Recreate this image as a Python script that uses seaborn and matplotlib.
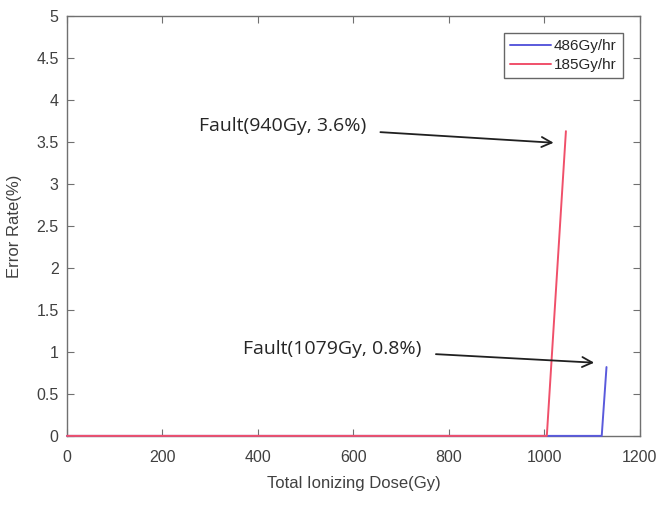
import matplotlib
matplotlib.use("Agg")
import matplotlib.pyplot as plt
import seaborn as sns
import pandas as pd

sns.set_style("white")
plt.rcParams['font.family'] = ['Liberation Sans', 'DejaVu Sans']

# Data
dose_486 = [0, 1120, 1130]
err_486 = [0, 0, 0.82]
dose_185 = [0, 1005, 1045]
err_185 = [0, 0, 3.63]
labels = ["486Gy/hr", "185Gy/hr"]
colors = ["#5a5adc", "#f0506a"]

df = pd.concat([
    pd.DataFrame({"dose": dose_486, "err": err_486, "series": labels[0]}),
    pd.DataFrame({"dose": dose_185, "err": err_185, "series": labels[1]}),
])

fig = plt.figure(figsize=(6.57, 5.22), dpi=100)
ax = fig.add_axes([0.102, 0.165, 0.872, 0.804])

sns.lineplot(data=df, x="dose", y="err", hue="series", palette=colors,
             hue_order=labels, sort=False, estimator=None, ax=ax, linewidth=1.4,
             clip_on=False, zorder=3)

ax.set_xlim(0, 1200)
ax.set_ylim(0, 5)
ax.set_xticks([0, 200, 400, 600, 800, 1000, 1200])
ax.set_yticks([0, 0.5, 1, 1.5, 2, 2.5, 3, 3.5, 4, 4.5, 5])
ax.set_yticklabels(["0", "0.5", "1", "1.5", "2", "2.5", "3", "3.5", "4", "4.5", "5"])
ax.set_xlabel("Total Ionizing Dose(Gy)", fontsize=12, color="#404040", labelpad=8)
ax.set_ylabel("Error Rate(%)", fontsize=12, color="#404040", labelpad=10)

for s in ax.spines.values():
    s.set_color("#707070")
    s.set_linewidth(1.0)
ax.tick_params(direction="in", length=5, width=0.8, colors="#707070",
               labelcolor="#404040", labelsize=11.5, top=True, right=True,
               bottom=True, left=True)
ax.tick_params(axis="x", pad=10)
ax.tick_params(axis="y", pad=6)

leg = ax.legend(loc="upper right", bbox_to_anchor=(1 - 17 / 573, 1 - 17 / 420),
                borderaxespad=0, fontsize=11, frameon=True, fancybox=False,
                edgecolor="#404040", handlelength=2.7, borderpad=0.4,
                handletextpad=0.2, labelspacing=0.3)
leg.get_frame().set_linewidth(1.0)

ax.annotate("Fault(940Gy, 3.6%)", xy=(1025, 3.49), xytext=(276, 3.69),
            fontsize=14, family=["Open Sans", "DejaVu Sans"], va="center", ha="left",
            arrowprops=dict(arrowstyle="->", color="#202020", lw=1.3,
                            mutation_scale=18, shrinkA=8))
ax.annotate("Fault(1079Gy, 0.8%)", xy=(1110, 0.87), xytext=(369, 1.04),
            fontsize=14, family=["Open Sans", "DejaVu Sans"], va="center", ha="left",
            arrowprops=dict(arrowstyle="->", color="#202020", lw=1.3,
                            mutation_scale=18, shrinkA=8))

fig.savefig("out.png", dpi=100, facecolor="white")
